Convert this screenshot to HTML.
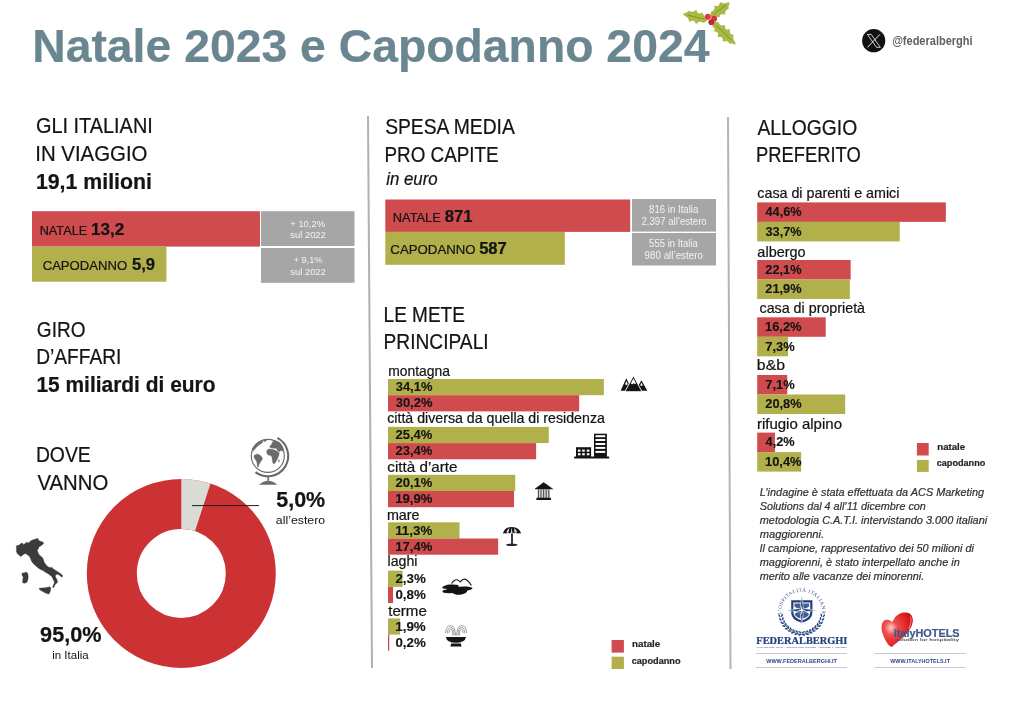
<!DOCTYPE html>
<html lang="it"><head><meta charset="utf-8"><title>Natale 2023 e Capodanno 2024</title>
<style>html,body{margin:0;padding:0;background:#fff;width:1024px;height:709px;overflow:hidden}svg{display:block;will-change:transform}</style>
</head><body>
<svg width="1024" height="709" viewBox="0 0 1024 709">
<rect width="1024" height="709" fill="#fff"/>
<line x1="368" y1="116" x2="372" y2="668" stroke="#a9b3b8" stroke-width="2"/>
<line x1="728" y1="117" x2="730.5" y2="669" stroke="#b4b4b4" stroke-width="2"/>
<rect x="32" y="211.2" width="228" height="35.4" fill="#d04b4d"/>
<rect x="32" y="246.6" width="134.4" height="35.1" fill="#b1b04b"/>
<rect x="261" y="211.2" width="93.5" height="34.8" fill="#a6a6a6"/>
<rect x="261" y="248" width="93.5" height="34.8" fill="#a6a6a6"/>
<rect x="385.3" y="199.5" width="244.9" height="32.4" fill="#d04b4d"/>
<rect x="385.3" y="231.9" width="179.5" height="32.9" fill="#b1b04b"/>
<rect x="632" y="199" width="84" height="32.6" fill="#a6a6a6"/>
<rect x="632" y="233" width="84" height="32.5" fill="#a6a6a6"/>
<rect x="388.0" y="379.0" width="215.85" height="16.2" fill="#b1b04b"/>
<rect x="388.0" y="395.2" width="191.17" height="16.2" fill="#d04b4d"/>
<rect x="388.0" y="426.9" width="160.78" height="16.2" fill="#b1b04b"/>
<rect x="388.0" y="443.09999999999997" width="148.12" height="16.2" fill="#d04b4d"/>
<rect x="388.0" y="474.8" width="127.23" height="16.2" fill="#b1b04b"/>
<rect x="388.0" y="491.0" width="125.97" height="16.2" fill="#d04b4d"/>
<rect x="388.0" y="522.3" width="71.53" height="16.2" fill="#b1b04b"/>
<rect x="388.0" y="538.5" width="110.14" height="16.2" fill="#d04b4d"/>
<rect x="388.0" y="570.6" width="14.56" height="16.2" fill="#b1b04b"/>
<rect x="388.0" y="586.8000000000001" width="5.06" height="16.2" fill="#d04b4d"/>
<rect x="388.0" y="618.4" width="12.03" height="16.2" fill="#b1b04b"/>
<rect x="388.0" y="634.6" width="1.27" height="16.2" fill="#d04b4d"/>
<rect x="757.2" y="202.4" width="188.66" height="19.5" fill="#d04b4d"/>
<rect x="757.2" y="221.9" width="142.55" height="19.5" fill="#b1b04b"/>
<rect x="757.2" y="260.0" width="93.48" height="19.5" fill="#d04b4d"/>
<rect x="757.2" y="279.5" width="92.64" height="19.5" fill="#b1b04b"/>
<rect x="757.2" y="317.3" width="68.53" height="19.5" fill="#d04b4d"/>
<rect x="757.2" y="336.8" width="30.88" height="19.5" fill="#b1b04b"/>
<rect x="757.2" y="375.0" width="30.03" height="19.5" fill="#d04b4d"/>
<rect x="757.2" y="394.5" width="87.98" height="19.5" fill="#b1b04b"/>
<rect x="757.2" y="432.6" width="17.77" height="19.5" fill="#d04b4d"/>
<rect x="757.2" y="452.1" width="43.99" height="19.5" fill="#b1b04b"/>
<rect x="611.6" y="640" width="12.3" height="12.6" fill="#d04b4d"/>
<rect x="611.6" y="656.7" width="12.3" height="12.3" fill="#b1b04b"/>
<rect x="916.9" y="443" width="11.8" height="12.5" fill="#d04b4d"/>
<rect x="916.9" y="459.9" width="11.8" height="12" fill="#b1b04b"/>
<circle cx="181.3" cy="573.4" r="69.5" fill="none" stroke="#cc3234" stroke-width="50.0"/>
<path d="M181.30,478.90 A94.5,94.5 0 0 1 210.50,483.53 L195.05,531.08 A44.5,44.5 0 0 0 181.30,528.90 Z" fill="#dbdbd5"/>
<line x1="192" y1="505.6" x2="259" y2="505.6" stroke="#1e1e1e" stroke-width="1"/>
<g transform="translate(707.5,19.8) rotate(-165.96)"><path d="M0.00,-0.00 L0.21,-0.79 L0.43,-1.19 L0.64,-1.52 L0.85,-1.81 L1.07,-2.06 L1.28,-2.30 L1.49,-2.52 L1.70,-2.73 L1.92,-2.92 L2.13,-3.11 L2.34,-3.29 L2.56,-3.46 L2.77,-3.62 L2.98,-3.78 L3.20,-3.85 L3.41,-3.84 L3.62,-3.83 L3.83,-3.80 L4.05,-3.76 L4.26,-3.72 L4.47,-3.68 L4.69,-3.63 L4.90,-3.59 L5.11,-3.55 L5.33,-3.52 L5.54,-3.50 L5.75,-3.48 L5.96,-3.49 L6.18,-3.50 L6.39,-3.53 L6.60,-3.58 L6.82,-3.65 L7.03,-3.73 L7.24,-3.84 L7.46,-3.96 L7.67,-4.11 L7.88,-4.27 L8.10,-4.45 L8.31,-4.65 L8.52,-4.87 L8.73,-5.10 L8.95,-5.35 L9.16,-5.60 L9.37,-5.87 L9.59,-6.14 L9.80,-6.42 L10.01,-6.71 L10.23,-6.59 L10.44,-6.38 L10.65,-6.17 L10.86,-5.95 L11.08,-5.74 L11.29,-5.54 L11.50,-5.35 L11.72,-5.17 L11.93,-5.00 L12.14,-4.85 L12.36,-4.71 L12.57,-4.59 L12.78,-4.50 L12.99,-4.42 L13.21,-4.37 L13.42,-4.34 L13.63,-4.33 L13.85,-4.34 L14.06,-4.38 L14.27,-4.43 L14.49,-4.51 L14.70,-4.61 L14.91,-4.72 L15.12,-4.86 L15.34,-5.00 L15.55,-5.16 L15.76,-5.33 L15.98,-5.51 L16.19,-5.69 L16.40,-5.87 L16.62,-6.06 L16.83,-6.24 L17.04,-6.42 L17.26,-6.13 L17.47,-5.84 L17.68,-5.56 L17.89,-5.29 L18.11,-4.94 L18.32,-4.62 L18.53,-4.32 L18.75,-4.04 L18.96,-3.78 L19.17,-3.54 L19.39,-3.33 L19.60,-3.13 L19.81,-2.96 L20.02,-2.80 L20.24,-2.67 L20.45,-2.55 L20.66,-2.44 L20.88,-2.35 L21.09,-2.27 L21.30,-2.20 L21.52,-2.14 L21.73,-2.08 L21.94,-2.02 L22.15,-1.96 L22.37,-1.91 L22.58,-1.84 L22.79,-1.78 L23.01,-1.71 L23.22,-1.63 L23.43,-1.54 L23.65,-1.44 L23.86,-1.33 L24.07,-1.19 L24.29,-0.98 L24.50,-0.79 L24.71,-0.61 L24.92,-0.44 L25.14,-0.28 L25.35,-0.13 L25.56,-0.00 L25.56,0.00 L25.35,0.12 L25.14,0.23 L24.92,0.33 L24.71,0.44 L24.50,0.54 L24.29,0.64 L24.07,0.74 L23.86,0.85 L23.65,0.96 L23.43,1.08 L23.22,1.21 L23.01,1.35 L22.79,1.51 L22.58,1.67 L22.37,1.85 L22.15,2.05 L21.94,2.26 L21.73,2.48 L21.52,2.73 L21.30,2.98 L21.09,3.26 L20.88,3.55 L20.66,3.85 L20.45,4.05 L20.24,4.06 L20.02,4.07 L19.81,4.06 L19.60,4.05 L19.39,4.03 L19.17,4.01 L18.96,4.00 L18.75,3.98 L18.53,3.97 L18.32,3.96 L18.11,3.97 L17.89,3.99 L17.68,3.96 L17.47,3.95 L17.26,3.96 L17.04,3.98 L16.83,4.03 L16.62,4.10 L16.40,4.18 L16.19,4.29 L15.98,4.42 L15.76,4.57 L15.55,4.74 L15.34,4.93 L15.12,5.14 L14.91,5.36 L14.70,5.59 L14.49,5.83 L14.27,6.09 L14.06,6.35 L13.85,6.61 L13.63,6.88 L13.42,6.83 L13.21,6.59 L12.99,6.34 L12.78,6.10 L12.57,5.86 L12.36,5.64 L12.14,5.42 L11.93,5.21 L11.72,5.02 L11.50,4.85 L11.29,4.69 L11.08,4.56 L10.86,4.44 L10.65,4.34 L10.44,4.27 L10.23,4.22 L10.01,4.19 L9.80,4.18 L9.59,4.19 L9.37,4.23 L9.16,4.28 L8.95,4.35 L8.73,4.44 L8.52,4.54 L8.31,4.65 L8.10,4.78 L7.88,4.91 L7.67,5.05 L7.46,5.19 L7.24,5.33 L7.03,5.47 L6.82,5.60 L6.60,5.73 L6.39,5.52 L6.18,5.23 L5.96,4.95 L5.75,4.67 L5.54,4.41 L5.33,4.16 L5.11,3.92 L4.90,3.69 L4.69,3.48 L4.47,3.29 L4.26,3.11 L4.05,2.95 L3.83,2.80 L3.62,2.67 L3.41,2.55 L3.20,2.44 L2.98,3.78 L2.77,3.62 L2.56,3.46 L2.34,3.29 L2.13,3.11 L1.92,2.92 L1.70,2.73 L1.49,2.52 L1.28,2.30 L1.07,2.06 L0.85,1.81 L0.64,1.52 L0.43,1.19 L0.21,0.79 L0.00,0.00Z" fill="#a9b944"/><path d="M3.07,0 Q11.50,-0.70 20.45,-0.21" stroke="#75862a" stroke-width="0.7" fill="none"/></g>
<g transform="translate(711,16.5) rotate(-36.19)"><path d="M0.00,-0.00 L0.20,-0.79 L0.39,-1.19 L0.59,-1.52 L0.78,-1.81 L0.98,-2.06 L1.18,-2.30 L1.37,-2.52 L1.57,-2.73 L1.77,-2.92 L1.96,-3.11 L2.16,-3.29 L2.35,-3.46 L2.55,-3.62 L2.75,-3.78 L2.94,-3.85 L3.14,-3.84 L3.34,-3.83 L3.53,-3.80 L3.73,-3.76 L3.92,-3.72 L4.12,-3.68 L4.32,-3.63 L4.51,-3.59 L4.71,-3.55 L4.90,-3.52 L5.10,-3.50 L5.30,-3.48 L5.49,-3.49 L5.69,-3.50 L5.89,-3.53 L6.08,-3.58 L6.28,-3.65 L6.47,-3.73 L6.67,-3.84 L6.87,-3.96 L7.06,-4.11 L7.26,-4.27 L7.45,-4.45 L7.65,-4.65 L7.85,-4.87 L8.04,-5.10 L8.24,-5.35 L8.44,-5.60 L8.63,-5.87 L8.83,-6.14 L9.02,-6.42 L9.22,-6.71 L9.42,-6.59 L9.61,-6.38 L9.81,-6.17 L10.01,-5.95 L10.20,-5.74 L10.40,-5.54 L10.59,-5.35 L10.79,-5.17 L10.99,-5.00 L11.18,-4.85 L11.38,-4.71 L11.57,-4.59 L11.77,-4.50 L11.97,-4.42 L12.16,-4.37 L12.36,-4.34 L12.56,-4.33 L12.75,-4.34 L12.95,-4.38 L13.14,-4.43 L13.34,-4.51 L13.54,-4.61 L13.73,-4.72 L13.93,-4.86 L14.12,-5.00 L14.32,-5.16 L14.52,-5.33 L14.71,-5.51 L14.91,-5.69 L15.11,-5.87 L15.30,-6.06 L15.50,-6.24 L15.69,-6.42 L15.89,-6.13 L16.09,-5.84 L16.28,-5.56 L16.48,-5.29 L16.68,-4.94 L16.87,-4.62 L17.07,-4.32 L17.26,-4.04 L17.46,-3.78 L17.66,-3.54 L17.85,-3.33 L18.05,-3.13 L18.24,-2.96 L18.44,-2.80 L18.64,-2.67 L18.83,-2.55 L19.03,-2.44 L19.23,-2.35 L19.42,-2.27 L19.62,-2.20 L19.81,-2.14 L20.01,-2.08 L20.21,-2.02 L20.40,-1.96 L20.60,-1.91 L20.80,-1.84 L20.99,-1.78 L21.19,-1.71 L21.38,-1.63 L21.58,-1.54 L21.78,-1.44 L21.97,-1.33 L22.17,-1.19 L22.36,-0.98 L22.56,-0.79 L22.76,-0.61 L22.95,-0.44 L23.15,-0.28 L23.35,-0.13 L23.54,-0.00 L23.54,0.00 L23.35,0.12 L23.15,0.23 L22.95,0.33 L22.76,0.44 L22.56,0.54 L22.36,0.64 L22.17,0.74 L21.97,0.85 L21.78,0.96 L21.58,1.08 L21.38,1.21 L21.19,1.35 L20.99,1.51 L20.80,1.67 L20.60,1.85 L20.40,2.05 L20.21,2.26 L20.01,2.48 L19.81,2.73 L19.62,2.98 L19.42,3.26 L19.23,3.55 L19.03,3.85 L18.83,4.05 L18.64,4.06 L18.44,4.07 L18.24,4.06 L18.05,4.05 L17.85,4.03 L17.66,4.01 L17.46,4.00 L17.26,3.98 L17.07,3.97 L16.87,3.96 L16.68,3.97 L16.48,3.99 L16.28,3.96 L16.09,3.95 L15.89,3.96 L15.69,3.98 L15.50,4.03 L15.30,4.10 L15.11,4.18 L14.91,4.29 L14.71,4.42 L14.52,4.57 L14.32,4.74 L14.12,4.93 L13.93,5.14 L13.73,5.36 L13.54,5.59 L13.34,5.83 L13.14,6.09 L12.95,6.35 L12.75,6.61 L12.56,6.88 L12.36,6.83 L12.16,6.59 L11.97,6.34 L11.77,6.10 L11.57,5.86 L11.38,5.64 L11.18,5.42 L10.99,5.21 L10.79,5.02 L10.59,4.85 L10.40,4.69 L10.20,4.56 L10.01,4.44 L9.81,4.34 L9.61,4.27 L9.42,4.22 L9.22,4.19 L9.02,4.18 L8.83,4.19 L8.63,4.23 L8.44,4.28 L8.24,4.35 L8.04,4.44 L7.85,4.54 L7.65,4.65 L7.45,4.78 L7.26,4.91 L7.06,5.05 L6.87,5.19 L6.67,5.33 L6.47,5.47 L6.28,5.60 L6.08,5.73 L5.89,5.52 L5.69,5.23 L5.49,4.95 L5.30,4.67 L5.10,4.41 L4.90,4.16 L4.71,3.92 L4.51,3.69 L4.32,3.48 L4.12,3.29 L3.92,3.11 L3.73,2.95 L3.53,2.80 L3.34,2.67 L3.14,2.55 L2.94,2.44 L2.75,3.78 L2.55,3.62 L2.35,3.46 L2.16,3.29 L1.96,3.11 L1.77,2.92 L1.57,2.73 L1.37,2.52 L1.18,2.30 L0.98,2.06 L0.78,1.81 L0.59,1.52 L0.39,1.19 L0.20,0.79 L0.00,0.00Z" fill="#a9b944"/><path d="M2.82,0 Q10.59,-0.70 18.83,-0.21" stroke="#75862a" stroke-width="0.7" fill="none"/></g>
<g transform="translate(713,22.5) rotate(44.36)"><path d="M0.00,-0.00 L0.27,-0.81 L0.53,-1.23 L0.80,-1.56 L1.06,-1.86 L1.33,-2.12 L1.59,-2.37 L1.86,-2.59 L2.13,-2.81 L2.39,-3.01 L2.66,-3.20 L2.92,-3.38 L3.19,-3.56 L3.46,-3.73 L3.72,-3.89 L3.99,-3.93 L4.25,-3.87 L4.52,-3.80 L4.78,-3.73 L5.05,-3.65 L5.32,-3.57 L5.58,-3.49 L5.85,-3.43 L6.11,-3.39 L6.38,-3.36 L6.64,-3.36 L6.91,-3.39 L7.18,-3.45 L7.44,-3.54 L7.71,-3.66 L7.97,-3.82 L8.24,-4.01 L8.50,-4.24 L8.77,-4.50 L9.04,-4.79 L9.30,-5.10 L9.57,-5.44 L9.83,-5.80 L10.10,-6.17 L10.37,-6.54 L10.63,-6.29 L10.90,-6.02 L11.16,-5.76 L11.43,-5.51 L11.69,-5.28 L11.96,-5.06 L12.23,-4.86 L12.49,-4.70 L12.76,-4.56 L13.02,-4.47 L13.29,-4.41 L13.55,-4.39 L13.82,-4.42 L14.09,-4.48 L14.35,-4.59 L14.62,-4.74 L14.88,-4.93 L15.15,-5.15 L15.41,-5.40 L15.68,-5.68 L15.95,-5.99 L16.21,-6.31 L16.48,-6.64 L16.74,-6.98 L17.01,-7.04 L17.28,-6.68 L17.54,-6.33 L17.81,-5.99 L18.07,-5.67 L18.34,-5.37 L18.60,-5.10 L18.87,-4.86 L19.14,-4.65 L19.40,-4.49 L19.67,-4.36 L19.93,-4.27 L20.20,-4.23 L20.46,-4.22 L20.73,-4.26 L21.00,-4.33 L21.26,-4.43 L21.53,-4.57 L21.79,-4.73 L22.06,-4.91 L22.32,-5.11 L22.59,-5.23 L22.86,-5.36 L23.12,-5.47 L23.39,-5.58 L23.65,-5.25 L23.92,-4.83 L24.19,-4.43 L24.45,-4.06 L24.72,-3.72 L24.98,-3.40 L25.25,-3.13 L25.51,-2.88 L25.78,-2.66 L26.05,-2.48 L26.31,-2.32 L26.58,-2.19 L26.84,-2.08 L27.11,-1.99 L27.37,-1.91 L27.64,-1.85 L27.91,-1.80 L28.17,-1.75 L28.44,-1.70 L28.70,-1.65 L28.97,-1.59 L29.23,-1.53 L29.50,-1.45 L29.77,-1.35 L30.03,-1.22 L30.30,-1.00 L30.56,-0.79 L30.83,-0.60 L31.10,-0.43 L31.36,-0.27 L31.63,-0.13 L31.89,-0.00 L31.89,0.00 L31.63,0.13 L31.36,0.25 L31.10,0.36 L30.83,0.46 L30.56,0.56 L30.30,0.66 L30.03,0.76 L29.77,0.88 L29.50,1.00 L29.23,1.13 L28.97,1.29 L28.70,1.46 L28.44,1.65 L28.17,1.86 L27.91,2.10 L27.64,2.36 L27.37,2.64 L27.11,2.94 L26.84,3.27 L26.58,3.44 L26.31,3.43 L26.05,3.41 L25.78,3.39 L25.51,3.35 L25.25,3.32 L24.98,3.29 L24.72,3.28 L24.45,3.27 L24.19,3.29 L23.92,3.33 L23.65,3.40 L23.39,3.49 L23.12,3.63 L22.86,3.80 L22.59,4.01 L22.32,4.27 L22.06,4.49 L21.79,4.75 L21.53,5.04 L21.26,5.35 L21.00,5.69 L20.73,6.04 L20.46,6.41 L20.20,6.79 L19.93,6.57 L19.67,6.28 L19.40,5.99 L19.14,5.72 L18.87,5.46 L18.60,5.22 L18.34,5.00 L18.07,4.82 L17.81,4.67 L17.54,4.56 L17.28,4.48 L17.01,4.45 L16.74,4.46 L16.48,4.52 L16.21,4.61 L15.95,4.75 L15.68,4.92 L15.41,5.13 L15.15,5.37 L14.88,5.64 L14.62,5.92 L14.35,6.23 L14.09,6.54 L13.82,6.86 L13.55,6.98 L13.29,6.61 L13.02,6.25 L12.76,5.90 L12.49,5.57 L12.23,5.26 L11.96,4.99 L11.69,4.74 L11.43,4.53 L11.16,4.35 L10.90,4.21 L10.63,4.12 L10.37,4.06 L10.10,4.04 L9.83,4.05 L9.57,4.11 L9.30,4.19 L9.04,4.30 L8.77,4.44 L8.50,4.59 L8.24,4.76 L7.97,4.94 L7.71,5.12 L7.44,5.30 L7.18,5.48 L6.91,5.27 L6.64,4.91 L6.38,4.56 L6.11,4.23 L5.85,3.93 L5.58,3.64 L5.32,3.39 L5.05,3.16 L4.78,2.96 L4.52,2.78 L4.25,2.64 L3.99,2.51 L3.72,3.89 L3.46,3.73 L3.19,3.56 L2.92,3.38 L2.66,3.20 L2.39,3.01 L2.13,2.81 L1.86,2.59 L1.59,2.37 L1.33,2.12 L1.06,1.86 L0.80,1.56 L0.53,1.23 L0.27,0.81 L0.00,0.00Z" fill="#a9b944"/><path d="M3.83,0 Q14.35,-0.72 25.51,-0.22" stroke="#75862a" stroke-width="0.7" fill="none"/></g>
<circle cx="707.9" cy="16.8" r="3.0" fill="#e23844"/>
<circle cx="714.1" cy="18.8" r="3.0" fill="#d9333f"/>
<circle cx="711.3" cy="22.2" r="2.9" fill="#b92a35"/>
<circle cx="873.7" cy="40.7" r="11.6" fill="#111"/>
<path d="M867.4,34.4 L871.2,34.4 L880.3,47.3 L876.5,47.3 Z" fill="none" stroke="#eee" stroke-width="0.85" stroke-linejoin="miter"/>
<line x1="880" y1="34.3" x2="867.4" y2="47.4" stroke="#e6e6e6" stroke-width="1"/>
<circle cx="267.8" cy="455.9" r="16.5" fill="none" stroke="#6b6b6b" stroke-width="1.15"/>
<path d="M277.38,437.89 A20.4,20.4 0 1 1 255.52,472.19" fill="none" stroke="#6b6b6b" stroke-width="2.1"/>
<rect x="267.4" y="477.2" width="1.7" height="3.6" fill="#6b6b6b"/>
<path d="M259,484.8 Q268.2,476.8 277.4,484.8 Z" fill="#6b6b6b"/>
<path d="M252.54,448.69 L253.39,447.00 L254.80,445.31 L256.77,443.62 L259.03,442.21 L261.28,441.36 L263.09,440.96 L262.69,442.49 L261.28,443.62 L259.87,444.46 L258.46,445.59 L257.05,446.72 L255.64,448.13 L254.51,449.54 L253.50,450.78 L252.71,451.23Z" fill="#6b6b6b" stroke="#6b6b6b" stroke-width="0.3" stroke-linejoin="round"/>
<path d="M254.23,455.18 L257.33,454.05 L259.87,454.90 L262.41,457.72 L262.13,459.70 L260.44,461.95 L259.03,464.77 L258.18,467.59 L257.33,466.47 L257.05,463.08 L255.92,460.26 L254.51,458.57 L253.95,456.87Z" fill="#6b6b6b" stroke="#6b6b6b" stroke-width="0.3" stroke-linejoin="round"/>
<path d="M266.93,450.10 L269.18,448.98 L272.00,449.26 L274.82,450.10 L277.08,451.23 L279.34,452.93 L278.77,455.75 L277.64,458.57 L276.52,460.82 L275.11,463.08 L273.70,463.93 L272.85,463.08 L272.28,460.26 L272.00,457.44 L270.87,455.46 L268.62,455.18 L267.21,454.05 L266.64,452.08Z" fill="#6b6b6b" stroke="#6b6b6b" stroke-width="0.3" stroke-linejoin="round"/>
<path d="M269.75,446.16 L271.44,444.46 L272.57,441.64 L274.82,440.51 L277.08,441.08 L279.90,442.77 L282.16,445.59 L283.40,448.69 L283.00,451.23 L281.03,450.39 L279.34,451.80 L277.64,450.78 L276.52,448.52 L274.82,448.13 L272.57,448.30 L270.31,447.73Z" fill="#6b6b6b" stroke="#6b6b6b" stroke-width="0.3" stroke-linejoin="round"/>
<path d="M263.54,440.23 L265.23,439.50 L266.93,439.67 L266.08,441.08 L264.39,441.64Z" fill="#6b6b6b" stroke="#6b6b6b" stroke-width="0.3" stroke-linejoin="round"/>
<path d="M278.49,459.98 L279.22,459.70 L279.45,461.39 L278.77,462.23Z" fill="#6b6b6b" stroke="#6b6b6b" stroke-width="0.3" stroke-linejoin="round"/>
<path d="M16.34,545.74 L18.78,545.29 L21.03,543.49 L22.39,543.03 L23.74,544.66 L25.55,543.03 L26.91,542.31 L28.26,543.03 L30.97,540.78 L33.68,539.60 L35.94,538.97 L37.75,538.34 L39.10,540.78 L43.17,542.13 L43.62,543.49 L41.81,545.29 L39.10,546.65 L38.20,548.91 L37.29,550.26 L38.20,552.97 L39.10,554.78 L41.81,557.04 L43.17,558.84 L44.07,562.00 L46.33,565.17 L49.04,567.42 L52.20,567.60 L53.10,568.78 L55.36,570.13 L58.07,571.94 L60.78,573.75 L62.59,575.55 L62.14,577.18 L60.78,576.46 L59.43,575.10 L57.17,574.20 L55.81,574.47 L55.36,576.46 L56.72,579.17 L57.62,581.43 L56.72,583.23 L55.36,584.14 L54.46,585.94 L53.73,587.75 L52.65,587.30 L53.37,585.04 L54.46,582.78 L54.01,580.97 L53.10,579.17 L51.75,576.46 L49.49,574.65 L47.23,573.30 L44.97,571.94 L43.17,570.59 L40.91,569.68 L38.20,567.88 L35.04,565.17 L32.78,562.91 L31.42,561.10 L30.52,558.39 L29.62,556.58 L27.36,554.78 L25.55,553.42 L23.74,554.33 L21.94,555.68 L20.58,556.58 L19.23,555.23 L17.42,553.87 L16.34,551.62 L16.52,548.45Z" fill="#3b3b3b" stroke="#3b3b3b" stroke-width="0.4" stroke-linejoin="round"/>
<path d="M21.94,573.30 L24.20,572.84 L26.45,571.94 L27.81,573.75 L28.26,576.46 L27.81,580.07 L26.91,582.33 L24.65,583.23 L22.66,582.78 L22.66,580.07 L23.29,577.36 L22.12,575.55Z" fill="#3b3b3b" stroke="#3b3b3b" stroke-width="0.4" stroke-linejoin="round"/>
<path d="M39.10,588.20 L41.81,588.02 L45.42,587.75 L49.94,586.85 L50.84,588.20 L50.39,590.91 L49.04,594.07 L46.78,593.62 L44.07,592.27 L40.91,590.46 L39.55,589.56Z" fill="#3b3b3b" stroke="#3b3b3b" stroke-width="0.4" stroke-linejoin="round"/>
<path d="M626.3,378.3 L632.2,390.7 L620.6,390.7Z" fill="#141414"/>
<path d="M641.4,380.2 L647.3,390.8 L635.5,390.8Z" fill="#141414"/>
<path d="M633.4,375.8 L642,391.7 L624.9,391.7Z" fill="#141414" stroke="#fff" stroke-width="0.9" stroke-linejoin="round"/>
<path d="M633.4,378.6 L636.1,383.4 L635,384.1 L633.8,383.2 L632.3,384.2 L630.8,383.5Z" fill="#fff"/>
<path d="M626.3,381 L627.9,384.4 L626.5,384.9 L625.1,384.3Z" fill="#fff"/>
<path d="M641.4,382.6 L642.8,385.3 L641.6,385.9 L640.2,385.3Z" fill="#fff"/>
<rect x="574.1" y="456.6" width="35.2" height="1.9" rx="0.6" fill="#141414"/>
<rect x="576" y="447.2" width="15.1" height="10" fill="#141414"/>
<rect x="577.9" y="449.6" width="2.6" height="2.1" fill="#fff"/>
<rect x="577.9" y="453.2" width="2.6" height="2.1" fill="#fff"/>
<rect x="582.2" y="449.6" width="2.6" height="2.1" fill="#fff"/>
<rect x="582.2" y="453.2" width="2.6" height="2.1" fill="#fff"/>
<rect x="586.8" y="449.6" width="2.6" height="2.1" fill="#fff"/>
<rect x="586.8" y="453.2" width="2.6" height="2.1" fill="#fff"/>
<rect x="594" y="433.7" width="12.9" height="23.5" fill="#141414"/>
<rect x="595.5" y="435.2" width="9.7" height="2" fill="#fff"/>
<rect x="595.5" y="439.0" width="9.7" height="2" fill="#fff"/>
<rect x="595.5" y="443.0" width="9.7" height="2" fill="#fff"/>
<rect x="595.5" y="446.9" width="9.7" height="2" fill="#fff"/>
<rect x="595.5" y="450.9" width="9.7" height="2" fill="#fff"/>
<path d="M543.7,482.6 L552.6,488.9 L535,488.9Z" fill="#141414" stroke="#141414" stroke-width="0.6" stroke-linejoin="round"/>
<rect x="537.85" y="489.2" width="1.1" height="9" fill="#333"/>
<rect x="540.45" y="489.2" width="1.1" height="9" fill="#333"/>
<rect x="543.0500000000001" y="489.2" width="1.1" height="9" fill="#333"/>
<rect x="545.6500000000001" y="489.2" width="1.1" height="9" fill="#333"/>
<rect x="548.25" y="489.2" width="1.1" height="9" fill="#333"/>
<rect x="537.8" y="489" width="12.2" height="9.3" fill="#8a8a8a" opacity="0.35"/>
<rect x="536.3" y="497.8" width="14.8" height="2.3" rx="0.8" fill="#141414"/>
<path d="M502.9,533.6 Q504.5,527 511.9,527 Q519.4,527 521,533.6 Q519.6,532.8 518,533.4 Q516.2,532.6 514.2,533.2 Q512.9,532.5 511.9,533.2 Q510.8,532.5 509.6,533.2 Q507.6,532.6 505.8,533.4 Q504.3,532.8 502.9,533.6Z" fill="#141414"/>
<path d="M506.2,532.6 Q507.3,529.5 509.5,528.1 Q508.8,530.5 508.5,532.7Z M514.2,532.6 Q514.6,530 514.2,527.9 Q516.6,529.6 517.2,532.5Z M510.9,532.9 Q511,530 511.6,527.8 Q512.3,530 512.4,532.9Z" fill="#fff" opacity="0.85"/>
<rect x="511.1" y="533.4" width="1.8" height="10.5" fill="#262626"/>
<ellipse cx="511.8" cy="544.8" rx="5.9" ry="1.2" fill="#262626"/>
<path d="M451.6,583.6 Q454,579.6 457,579.8 Q459,580.5 460.3,581.8 Q462.5,578.8 465.5,579.2 Q468.5,580.5 471.4,585.6" fill="none" stroke="#141414" stroke-width="1.1"/>
<path d="M445.5,585.6 Q448,584.2 451,584.6 Q455,584.4 458.2,584.9 L458.6,586.8 Q462,586.4 467,586.6 Q472.6,587.3 472.6,588.6 Q471.5,590 467.4,590.6 Q466.8,594 460.5,594.7 Q454.5,595 452.6,593 Q447,593.5 443,592.5 Q441.5,591.2 444,590.1 Q447.5,589.6 446.6,588.8 Q442,588.6 442.2,587.4 Q443,586 445.5,585.6Z" fill="#141414"/>
<path d="M445.9,637 L466,637 Q465,642.8 456,642.8 Q446.8,642.8 445.9,637Z" fill="#141414"/>
<path d="M451.2,643.6 L460.8,643.6 L461.6,646.5 L450.4,646.5Z" fill="#141414"/>
<g fill="none" stroke="#7a7a7a" stroke-width="0.7"><path d="M445.6,633 Q446,625.6 450.6,625.6 Q455,625.6 455.6,635.5"/><path d="M447.3,633.3 Q447.8,627.4 450.7,627.4 Q454,627.4 454.2,635.5"/><path d="M449,633 Q449.3,629.2 450.8,629.2 Q452.7,629.2 452.8,635.5"/><path d="M466.6,633 Q466.2,625.6 461.6,625.6 Q457.2,625.6 456.6,635.5"/><path d="M464.9,633.3 Q464.4,627.4 461.5,627.4 Q458.2,627.4 458,635.5"/><path d="M463.2,633 Q462.9,629.2 461.4,629.2 Q459.5,629.2 459.4,635.5"/></g>
<defs><path id="ringarc" d="M781.4000000000001,614.9 A20.5,20.5 0 1 1 822.0,614.9"/><radialGradient id="hg" cx="0.3" cy="0.45" r="0.8"><stop offset="0" stop-color="#ffd0d0"/><stop offset="0.25" stop-color="#f05050"/><stop offset="0.7" stop-color="#e01c1c"/><stop offset="1" stop-color="#b80c10"/></radialGradient></defs>
<text font-family="Liberation Serif, serif" font-size="5" fill="#213f7d"><textPath href="#ringarc" startOffset="0.5" textLength="68" lengthAdjust="spacing">L’OSPITALITÀ ITALIANA</textPath></text>
<path d="M791.2,600.2 L812.4,600.2 L812.4,613 Q812.4,619.8 801.8,622.8 Q791.2,619.8 791.2,613 Z" fill="#213f7d"/>
<path d="M793.4,602.4 L810.2,602.4 L810.2,612.8 Q810.2,618 801.8,620.4 Q793.4,618 793.4,612.8 Z" fill="#fff"/>
<path d="M794.5,603.5 L800.6,603.5 L800.6,608.6 Q797,609 794.5,606.5Z M809.1,603.5 L803,603.5 L803,608.6 Q806.6,609 809.1,606.5Z M794.5,614 Q797,611.6 800.6,611.8 L800.6,618.6 Q795.8,617 794.5,614Z M809.1,614 Q806.6,611.6 803,611.8 L803,618.6 Q807.8,617 809.1,614Z" fill="#213f7d" opacity="0.85"/>
<path d="M801.8,595.5 L803.4,608.4 L816.6,610.2 L803.4,612 L801.8,625 L800.2,612 L787,610.2 L800.2,608.4 Z" fill="#213f7d" stroke="#fff" stroke-width="0.5"/>
<path d="M801.8,605.2 L802.6,609.4 L806.8,610.2 L802.6,611 L801.8,615.2 L801,611 L796.8,610.2 L801,609.4Z" fill="#fff"/>
<ellipse cx="799.97" cy="632.12" rx="1.7" ry="0.75" transform="rotate(210.0 799.97 632.12)" fill="#213f7d"/>
<ellipse cx="799.74" cy="634.71" rx="1.7" ry="0.75" transform="rotate(160.0 799.74 634.71)" fill="#213f7d"/>
<ellipse cx="796.72" cy="631.57" rx="1.7" ry="0.75" transform="rotate(219.5 796.72 631.57)" fill="#213f7d"/>
<ellipse cx="796.07" cy="634.08" rx="1.7" ry="0.75" transform="rotate(169.5 796.07 634.08)" fill="#213f7d"/>
<ellipse cx="793.61" cy="630.48" rx="1.7" ry="0.75" transform="rotate(229.0 793.61 630.48)" fill="#213f7d"/>
<ellipse cx="792.55" cy="632.85" rx="1.7" ry="0.75" transform="rotate(179.0 792.55 632.85)" fill="#213f7d"/>
<ellipse cx="790.72" cy="628.89" rx="1.7" ry="0.75" transform="rotate(238.5 790.72 628.89)" fill="#213f7d"/>
<ellipse cx="789.28" cy="631.06" rx="1.7" ry="0.75" transform="rotate(188.5 789.28 631.06)" fill="#213f7d"/>
<ellipse cx="788.13" cy="626.85" rx="1.7" ry="0.75" transform="rotate(248.0 788.13 626.85)" fill="#213f7d"/>
<ellipse cx="786.36" cy="628.76" rx="1.7" ry="0.75" transform="rotate(198.0 786.36 628.76)" fill="#213f7d"/>
<ellipse cx="785.91" cy="624.41" rx="1.7" ry="0.75" transform="rotate(257.5 785.91 624.41)" fill="#213f7d"/>
<ellipse cx="783.85" cy="626.00" rx="1.7" ry="0.75" transform="rotate(207.5 783.85 626.00)" fill="#213f7d"/>
<ellipse cx="784.13" cy="621.64" rx="1.7" ry="0.75" transform="rotate(267.0 784.13 621.64)" fill="#213f7d"/>
<ellipse cx="781.83" cy="622.86" rx="1.7" ry="0.75" transform="rotate(217.0 781.83 622.86)" fill="#213f7d"/>
<ellipse cx="782.83" cy="618.61" rx="1.7" ry="0.75" transform="rotate(276.5 782.83 618.61)" fill="#213f7d"/>
<ellipse cx="780.36" cy="619.44" rx="1.7" ry="0.75" transform="rotate(226.5 780.36 619.44)" fill="#213f7d"/>
<ellipse cx="782.05" cy="615.41" rx="1.7" ry="0.75" transform="rotate(286.0 782.05 615.41)" fill="#213f7d"/>
<ellipse cx="779.48" cy="615.82" rx="1.7" ry="0.75" transform="rotate(236.0 779.48 615.82)" fill="#213f7d"/>
<ellipse cx="803.43" cy="632.12" rx="1.7" ry="0.75" transform="rotate(150.0 803.43 632.12)" fill="#213f7d"/>
<ellipse cx="803.66" cy="634.71" rx="1.7" ry="0.75" transform="rotate(200.0 803.66 634.71)" fill="#213f7d"/>
<ellipse cx="806.68" cy="631.57" rx="1.7" ry="0.75" transform="rotate(140.5 806.68 631.57)" fill="#213f7d"/>
<ellipse cx="807.33" cy="634.08" rx="1.7" ry="0.75" transform="rotate(190.5 807.33 634.08)" fill="#213f7d"/>
<ellipse cx="809.79" cy="630.48" rx="1.7" ry="0.75" transform="rotate(131.0 809.79 630.48)" fill="#213f7d"/>
<ellipse cx="810.85" cy="632.85" rx="1.7" ry="0.75" transform="rotate(181.0 810.85 632.85)" fill="#213f7d"/>
<ellipse cx="812.68" cy="628.89" rx="1.7" ry="0.75" transform="rotate(121.5 812.68 628.89)" fill="#213f7d"/>
<ellipse cx="814.12" cy="631.06" rx="1.7" ry="0.75" transform="rotate(171.5 814.12 631.06)" fill="#213f7d"/>
<ellipse cx="815.27" cy="626.85" rx="1.7" ry="0.75" transform="rotate(112.0 815.27 626.85)" fill="#213f7d"/>
<ellipse cx="817.04" cy="628.76" rx="1.7" ry="0.75" transform="rotate(162.0 817.04 628.76)" fill="#213f7d"/>
<ellipse cx="817.49" cy="624.41" rx="1.7" ry="0.75" transform="rotate(102.5 817.49 624.41)" fill="#213f7d"/>
<ellipse cx="819.55" cy="626.00" rx="1.7" ry="0.75" transform="rotate(152.5 819.55 626.00)" fill="#213f7d"/>
<ellipse cx="819.27" cy="621.64" rx="1.7" ry="0.75" transform="rotate(93.0 819.27 621.64)" fill="#213f7d"/>
<ellipse cx="821.57" cy="622.86" rx="1.7" ry="0.75" transform="rotate(143.0 821.57 622.86)" fill="#213f7d"/>
<ellipse cx="820.57" cy="618.61" rx="1.7" ry="0.75" transform="rotate(83.5 820.57 618.61)" fill="#213f7d"/>
<ellipse cx="823.04" cy="619.44" rx="1.7" ry="0.75" transform="rotate(133.5 823.04 619.44)" fill="#213f7d"/>
<ellipse cx="821.35" cy="615.41" rx="1.7" ry="0.75" transform="rotate(74.0 821.35 615.41)" fill="#213f7d"/>
<ellipse cx="823.92" cy="615.82" rx="1.7" ry="0.75" transform="rotate(124.0 823.92 615.82)" fill="#213f7d"/>
<path d="M782.7,622.3 Q791.7,634.3 801.7,634.3 Q811.7,634.3 820.7,622.3" stroke="#213f7d" stroke-width="0.7" fill="none"/>
<line x1="756" y1="653.5" x2="847" y2="653.5" stroke="#c4c4c4" stroke-width="0.9"/>
<line x1="874.7" y1="653.5" x2="966" y2="653.5" stroke="#c4c4c4" stroke-width="0.9"/>
<line x1="756" y1="667.5" x2="847" y2="667.5" stroke="#c4c4c4" stroke-width="0.9"/>
<line x1="874.7" y1="667.5" x2="966" y2="667.5" stroke="#c4c4c4" stroke-width="0.9"/>
<path d="M891.32,646.72 C889.88,646.37 888.00,644.31 886.48,641.89 C884.96,639.47 882.99,634.91 882.19,632.22 C881.38,629.54 881.47,627.57 881.65,625.78 C881.83,623.99 882.45,622.47 883.26,621.48 C884.07,620.50 885.32,620.05 886.48,619.87 C887.65,619.69 889.26,620.14 890.24,620.41 C891.23,620.68 891.41,622.20 892.39,621.48 C893.37,620.77 894.63,617.54 896.15,616.11 C897.67,614.68 899.64,613.46 901.52,612.89 C903.40,612.32 905.82,612.32 907.43,612.67 C909.04,613.03 910.29,613.84 911.19,615.04 C912.08,616.24 912.71,618.08 912.80,619.87 C912.89,621.66 912.53,623.72 911.72,625.78 C910.92,627.84 909.84,629.90 907.96,632.22 C906.08,634.55 902.59,637.77 900.45,639.74 C898.30,641.71 896.60,642.88 895.08,644.04 C893.55,645.20 892.75,647.08 891.32,646.72 Z" fill="url(#hg)"/>
<path d="M910.6,616.5 Q912.2,622 908.4,630" stroke="#fff" stroke-width="0.6" fill="none" opacity="0.85"/>
<text x="32.21" y="62.3" textLength="677.24" lengthAdjust="spacingAndGlyphs" font-family="Liberation Sans, sans-serif" font-size="46.2" font-weight="bold" font-style="normal" fill="#6a8690" stroke="#6a8690" stroke-width="0.22">Natale 2023 e Capodanno 2024</text>
<text x="892.13" y="45.3" textLength="80.47" lengthAdjust="spacingAndGlyphs" font-family="Liberation Sans, sans-serif" font-size="12.3" font-weight="bold" font-style="normal" fill="#606060">@federalberghi</text>
<text x="36.01" y="133.1" textLength="116.76" lengthAdjust="spacingAndGlyphs" font-family="Liberation Sans, sans-serif" font-size="21.5" font-weight="normal" font-style="normal" fill="#141414" stroke="#141414" stroke-width="0.22">GLI ITALIANI</text>
<text x="35.3" y="160.8" textLength="112.14" lengthAdjust="spacingAndGlyphs" font-family="Liberation Sans, sans-serif" font-size="21.5" font-weight="normal" font-style="normal" fill="#141414" stroke="#141414" stroke-width="0.22">IN VIAGGIO</text>
<text x="35.88" y="188.9" textLength="116.12" lengthAdjust="spacingAndGlyphs" font-family="Liberation Sans, sans-serif" font-size="21.5" font-weight="bold" font-style="normal" fill="#141414" stroke="#141414" stroke-width="0.22">19,1 milioni</text>
<text x="39.66" y="234.7" textLength="47.53" lengthAdjust="spacingAndGlyphs" font-family="Liberation Sans, sans-serif" font-size="13.5" font-weight="normal" font-style="normal" fill="#141414" stroke="#141414" stroke-width="0.22">NATALE</text>
<text x="91.06" y="234.7" textLength="33.19" lengthAdjust="spacingAndGlyphs" font-family="Liberation Sans, sans-serif" font-size="15.8" font-weight="bold" font-style="normal" fill="#141414" stroke="#141414" stroke-width="0.22">13,2</text>
<text x="42.67" y="269.8" textLength="84.53" lengthAdjust="spacingAndGlyphs" font-family="Liberation Sans, sans-serif" font-size="13.4" font-weight="normal" font-style="normal" fill="#141414" stroke="#141414" stroke-width="0.22">CAPODANNO</text>
<text x="131.95" y="269.8" textLength="23.13" lengthAdjust="spacingAndGlyphs" font-family="Liberation Sans, sans-serif" font-size="15.8" font-weight="bold" font-style="normal" fill="#141414" stroke="#141414" stroke-width="0.22">5,9</text>
<text x="290.28" y="226.7" textLength="34.81" lengthAdjust="spacingAndGlyphs" font-family="Liberation Sans, sans-serif" font-size="9" font-weight="normal" font-style="normal" fill="#f3f3f3">+ 10,2%</text>
<text x="290.24" y="238" textLength="35.61" lengthAdjust="spacingAndGlyphs" font-family="Liberation Sans, sans-serif" font-size="9" font-weight="normal" font-style="normal" fill="#f3f3f3">sul 2022</text>
<text x="293.49" y="262.8" textLength="29.1" lengthAdjust="spacingAndGlyphs" font-family="Liberation Sans, sans-serif" font-size="9" font-weight="normal" font-style="normal" fill="#f3f3f3">+ 9,1%</text>
<text x="290.24" y="274.6" textLength="35.61" lengthAdjust="spacingAndGlyphs" font-family="Liberation Sans, sans-serif" font-size="9" font-weight="normal" font-style="normal" fill="#f3f3f3">sul 2022</text>
<text x="36.85" y="336.6" textLength="48.59" lengthAdjust="spacingAndGlyphs" font-family="Liberation Sans, sans-serif" font-size="21.5" font-weight="normal" font-style="normal" fill="#141414" stroke="#141414" stroke-width="0.22">GIRO</text>
<text x="36.2" y="364.3" textLength="85.12" lengthAdjust="spacingAndGlyphs" font-family="Liberation Sans, sans-serif" font-size="21.5" font-weight="normal" font-style="normal" fill="#141414" stroke="#141414" stroke-width="0.22">D’AFFARI</text>
<text x="36.41" y="392.4" textLength="179.07" lengthAdjust="spacingAndGlyphs" font-family="Liberation Sans, sans-serif" font-size="21.5" font-weight="bold" font-style="normal" fill="#141414" stroke="#141414" stroke-width="0.22">15 miliardi di euro</text>
<text x="35.89" y="462" textLength="54.9" lengthAdjust="spacingAndGlyphs" font-family="Liberation Sans, sans-serif" font-size="21.5" font-weight="normal" font-style="normal" fill="#141414" stroke="#141414" stroke-width="0.22">DOVE</text>
<text x="37.5" y="489.7" textLength="70.79" lengthAdjust="spacingAndGlyphs" font-family="Liberation Sans, sans-serif" font-size="21.5" font-weight="normal" font-style="normal" fill="#141414" stroke="#141414" stroke-width="0.22">VANNO</text>
<text x="276.28" y="506.9" textLength="48.95" lengthAdjust="spacingAndGlyphs" font-family="Liberation Sans, sans-serif" font-size="21.6" font-weight="bold" font-style="normal" fill="#141414" stroke="#141414" stroke-width="0.22">5,0%</text>
<text x="275.84" y="523.8" textLength="49.35" lengthAdjust="spacingAndGlyphs" font-family="Liberation Sans, sans-serif" font-size="11" font-weight="normal" font-style="normal" fill="#141414">all’estero</text>
<text x="40.08" y="642" textLength="61.43" lengthAdjust="spacingAndGlyphs" font-family="Liberation Sans, sans-serif" font-size="22" font-weight="bold" font-style="normal" fill="#141414" stroke="#141414" stroke-width="0.22">95,0%</text>
<text x="52.22" y="659" textLength="36.43" lengthAdjust="spacingAndGlyphs" font-family="Liberation Sans, sans-serif" font-size="11" font-weight="normal" font-style="normal" fill="#141414">in Italia</text>
<text x="385.14" y="134.2" textLength="129.72" lengthAdjust="spacingAndGlyphs" font-family="Liberation Sans, sans-serif" font-size="21.5" font-weight="normal" font-style="normal" fill="#141414" stroke="#141414" stroke-width="0.22">SPESA MEDIA</text>
<text x="384.53" y="161.6" textLength="114.02" lengthAdjust="spacingAndGlyphs" font-family="Liberation Sans, sans-serif" font-size="21.5" font-weight="normal" font-style="normal" fill="#141414" stroke="#141414" stroke-width="0.22">PRO CAPITE</text>
<text x="386.22" y="185" textLength="51.37" lengthAdjust="spacingAndGlyphs" font-family="Liberation Sans, sans-serif" font-size="17.5" font-weight="normal" font-style="italic" fill="#141414" stroke="#141414" stroke-width="0.22">in euro</text>
<text x="392.8" y="222" textLength="47.99" lengthAdjust="spacingAndGlyphs" font-family="Liberation Sans, sans-serif" font-size="13.5" font-weight="normal" font-style="normal" fill="#141414" stroke="#141414" stroke-width="0.22">NATALE</text>
<text x="444.75" y="222" textLength="27.74" lengthAdjust="spacingAndGlyphs" font-family="Liberation Sans, sans-serif" font-size="15.8" font-weight="bold" font-style="normal" fill="#141414" stroke="#141414" stroke-width="0.22">871</text>
<text x="390.36" y="254.4" textLength="85.24" lengthAdjust="spacingAndGlyphs" font-family="Liberation Sans, sans-serif" font-size="13.4" font-weight="normal" font-style="normal" fill="#141414" stroke="#141414" stroke-width="0.22">CAPODANNO</text>
<text x="479.15" y="254.4" textLength="27.69" lengthAdjust="spacingAndGlyphs" font-family="Liberation Sans, sans-serif" font-size="15.8" font-weight="bold" font-style="normal" fill="#141414" stroke="#141414" stroke-width="0.22">587</text>
<text x="649.12" y="213.2" textLength="49.18" lengthAdjust="spacingAndGlyphs" font-family="Liberation Sans, sans-serif" font-size="10" font-weight="normal" font-style="normal" fill="#f3f3f3">816 in Italia</text>
<text x="641.42" y="225.3" textLength="65.29" lengthAdjust="spacingAndGlyphs" font-family="Liberation Sans, sans-serif" font-size="10" font-weight="normal" font-style="normal" fill="#f3f3f3">2.397 all’estero</text>
<text x="649.12" y="246.6" textLength="48.68" lengthAdjust="spacingAndGlyphs" font-family="Liberation Sans, sans-serif" font-size="10" font-weight="normal" font-style="normal" fill="#f3f3f3">555 in Italia</text>
<text x="644.51" y="258.7" textLength="58.47" lengthAdjust="spacingAndGlyphs" font-family="Liberation Sans, sans-serif" font-size="10" font-weight="normal" font-style="normal" fill="#f3f3f3">980 all’estero</text>
<text x="383.62" y="321.9" textLength="81.25" lengthAdjust="spacingAndGlyphs" font-family="Liberation Sans, sans-serif" font-size="21.5" font-weight="normal" font-style="normal" fill="#141414" stroke="#141414" stroke-width="0.22">LE METE</text>
<text x="383.6" y="349.2" textLength="105.01" lengthAdjust="spacingAndGlyphs" font-family="Liberation Sans, sans-serif" font-size="21.5" font-weight="normal" font-style="normal" fill="#141414" stroke="#141414" stroke-width="0.22">PRINCIPALI</text>
<text x="388.13" y="376" textLength="61.86" lengthAdjust="spacingAndGlyphs" font-family="Liberation Sans, sans-serif" font-size="14.3" font-weight="normal" font-style="normal" fill="#141414" stroke="#141414" stroke-width="0.22">montagna</text>
<text x="387.2" y="423.4" textLength="217.69" lengthAdjust="spacingAndGlyphs" font-family="Liberation Sans, sans-serif" font-size="14.3" font-weight="normal" font-style="normal" fill="#141414" stroke="#141414" stroke-width="0.22">città diversa da quella di residenza</text>
<text x="387.37" y="471.7" textLength="70.18" lengthAdjust="spacingAndGlyphs" font-family="Liberation Sans, sans-serif" font-size="14.3" font-weight="normal" font-style="normal" fill="#141414" stroke="#141414" stroke-width="0.22">città d’arte</text>
<text x="386.9" y="520.4" textLength="32.68" lengthAdjust="spacingAndGlyphs" font-family="Liberation Sans, sans-serif" font-size="14.3" font-weight="normal" font-style="normal" fill="#141414" stroke="#141414" stroke-width="0.22">mare</text>
<text x="387.51" y="566.3" textLength="29.94" lengthAdjust="spacingAndGlyphs" font-family="Liberation Sans, sans-serif" font-size="14.3" font-weight="normal" font-style="normal" fill="#141414" stroke="#141414" stroke-width="0.22">laghi</text>
<text x="388.24" y="616" textLength="38.64" lengthAdjust="spacingAndGlyphs" font-family="Liberation Sans, sans-serif" font-size="14.3" font-weight="normal" font-style="normal" fill="#141414" stroke="#141414" stroke-width="0.22">terme</text>
<text x="395.74" y="391.2" textLength="36.68" lengthAdjust="spacingAndGlyphs" font-family="Liberation Sans, sans-serif" font-size="12.4" font-weight="bold" font-style="normal" fill="#141414" stroke="#141414" stroke-width="0.12">34,1%</text>
<text x="395.74" y="407.4" textLength="36.68" lengthAdjust="spacingAndGlyphs" font-family="Liberation Sans, sans-serif" font-size="12.4" font-weight="bold" font-style="normal" fill="#141414" stroke="#141414" stroke-width="0.12">30,2%</text>
<text x="395.47" y="439.09999999999997" textLength="36.95" lengthAdjust="spacingAndGlyphs" font-family="Liberation Sans, sans-serif" font-size="12.4" font-weight="bold" font-style="normal" fill="#141414" stroke="#141414" stroke-width="0.12">25,4%</text>
<text x="395.47" y="455.29999999999995" textLength="36.95" lengthAdjust="spacingAndGlyphs" font-family="Liberation Sans, sans-serif" font-size="12.4" font-weight="bold" font-style="normal" fill="#141414" stroke="#141414" stroke-width="0.12">23,4%</text>
<text x="395.47" y="487.0" textLength="36.95" lengthAdjust="spacingAndGlyphs" font-family="Liberation Sans, sans-serif" font-size="12.4" font-weight="bold" font-style="normal" fill="#141414" stroke="#141414" stroke-width="0.12">20,1%</text>
<text x="395.21" y="503.2" textLength="37.22" lengthAdjust="spacingAndGlyphs" font-family="Liberation Sans, sans-serif" font-size="12.4" font-weight="bold" font-style="normal" fill="#141414" stroke="#141414" stroke-width="0.12">19,9%</text>
<text x="395.19" y="534.5" textLength="37.05" lengthAdjust="spacingAndGlyphs" font-family="Liberation Sans, sans-serif" font-size="12.4" font-weight="bold" font-style="normal" fill="#141414" stroke="#141414" stroke-width="0.12">11,3%</text>
<text x="395.21" y="550.7" textLength="37.22" lengthAdjust="spacingAndGlyphs" font-family="Liberation Sans, sans-serif" font-size="12.4" font-weight="bold" font-style="normal" fill="#141414" stroke="#141414" stroke-width="0.12">17,4%</text>
<text x="395.46" y="582.8000000000001" textLength="30.32" lengthAdjust="spacingAndGlyphs" font-family="Liberation Sans, sans-serif" font-size="12.4" font-weight="bold" font-style="normal" fill="#141414" stroke="#141414" stroke-width="0.12">2,3%</text>
<text x="395.46" y="599.0000000000001" textLength="30.32" lengthAdjust="spacingAndGlyphs" font-family="Liberation Sans, sans-serif" font-size="12.4" font-weight="bold" font-style="normal" fill="#141414" stroke="#141414" stroke-width="0.12">0,8%</text>
<text x="395.19" y="630.6" textLength="30.6" lengthAdjust="spacingAndGlyphs" font-family="Liberation Sans, sans-serif" font-size="12.4" font-weight="bold" font-style="normal" fill="#141414" stroke="#141414" stroke-width="0.12">1,9%</text>
<text x="395.46" y="646.8000000000001" textLength="30.32" lengthAdjust="spacingAndGlyphs" font-family="Liberation Sans, sans-serif" font-size="12.4" font-weight="bold" font-style="normal" fill="#141414" stroke="#141414" stroke-width="0.12">0,2%</text>
<text x="632.06" y="646.9" textLength="28.18" lengthAdjust="spacingAndGlyphs" font-family="Liberation Sans, sans-serif" font-size="9.9" font-weight="bold" font-style="normal" fill="#262626" stroke="#262626" stroke-width="0.22">natale</text>
<text x="631.64" y="663.6" textLength="48.92" lengthAdjust="spacingAndGlyphs" font-family="Liberation Sans, sans-serif" font-size="9.9" font-weight="bold" font-style="normal" fill="#262626" stroke="#262626" stroke-width="0.22">capodanno</text>
<text x="757.5" y="134.7" textLength="99.75" lengthAdjust="spacingAndGlyphs" font-family="Liberation Sans, sans-serif" font-size="21.5" font-weight="normal" font-style="normal" fill="#141414" stroke="#141414" stroke-width="0.22">ALLOGGIO</text>
<text x="755.97" y="161.6" textLength="104.84" lengthAdjust="spacingAndGlyphs" font-family="Liberation Sans, sans-serif" font-size="21.5" font-weight="normal" font-style="normal" fill="#141414" stroke="#141414" stroke-width="0.22">PREFERITO</text>
<text x="757.3" y="197.6" textLength="142.09" lengthAdjust="spacingAndGlyphs" font-family="Liberation Sans, sans-serif" font-size="14.3" font-weight="normal" font-style="normal" fill="#141414" stroke="#141414" stroke-width="0.22">casa di parenti e amici</text>
<text x="757.39" y="257.3" textLength="48.31" lengthAdjust="spacingAndGlyphs" font-family="Liberation Sans, sans-serif" font-size="14.3" font-weight="normal" font-style="normal" fill="#141414" stroke="#141414" stroke-width="0.22">albergo</text>
<text x="759.5" y="312.6" textLength="105.55" lengthAdjust="spacingAndGlyphs" font-family="Liberation Sans, sans-serif" font-size="14.3" font-weight="normal" font-style="normal" fill="#141414" stroke="#141414" stroke-width="0.22">casa di proprietà</text>
<text x="756.89" y="370.2" textLength="28.17" lengthAdjust="spacingAndGlyphs" font-family="Liberation Sans, sans-serif" font-size="14.3" font-weight="normal" font-style="normal" fill="#141414" stroke="#141414" stroke-width="0.22">b&amp;b</text>
<text x="756.95" y="428.8" textLength="85.05" lengthAdjust="spacingAndGlyphs" font-family="Liberation Sans, sans-serif" font-size="14.3" font-weight="normal" font-style="normal" fill="#141414" stroke="#141414" stroke-width="0.22">rifugio alpino</text>
<text x="765.55" y="216.20000000000002" textLength="36.03" lengthAdjust="spacingAndGlyphs" font-family="Liberation Sans, sans-serif" font-size="12.6" font-weight="bold" font-style="normal" fill="#141414" stroke="#141414" stroke-width="0.12">44,6%</text>
<text x="765.55" y="235.70000000000002" textLength="36.03" lengthAdjust="spacingAndGlyphs" font-family="Liberation Sans, sans-serif" font-size="12.6" font-weight="bold" font-style="normal" fill="#141414" stroke="#141414" stroke-width="0.12">33,7%</text>
<text x="765.29" y="273.8" textLength="36.29" lengthAdjust="spacingAndGlyphs" font-family="Liberation Sans, sans-serif" font-size="12.6" font-weight="bold" font-style="normal" fill="#141414" stroke="#141414" stroke-width="0.12">22,1%</text>
<text x="765.29" y="293.3" textLength="36.29" lengthAdjust="spacingAndGlyphs" font-family="Liberation Sans, sans-serif" font-size="12.6" font-weight="bold" font-style="normal" fill="#141414" stroke="#141414" stroke-width="0.12">21,9%</text>
<text x="765.03" y="331.1" textLength="36.55" lengthAdjust="spacingAndGlyphs" font-family="Liberation Sans, sans-serif" font-size="12.6" font-weight="bold" font-style="normal" fill="#141414" stroke="#141414" stroke-width="0.12">16,2%</text>
<text x="765.29" y="350.6" textLength="29.49" lengthAdjust="spacingAndGlyphs" font-family="Liberation Sans, sans-serif" font-size="12.6" font-weight="bold" font-style="normal" fill="#141414" stroke="#141414" stroke-width="0.12">7,3%</text>
<text x="765.29" y="388.8" textLength="29.49" lengthAdjust="spacingAndGlyphs" font-family="Liberation Sans, sans-serif" font-size="12.6" font-weight="bold" font-style="normal" fill="#141414" stroke="#141414" stroke-width="0.12">7,1%</text>
<text x="765.29" y="408.3" textLength="36.29" lengthAdjust="spacingAndGlyphs" font-family="Liberation Sans, sans-serif" font-size="12.6" font-weight="bold" font-style="normal" fill="#141414" stroke="#141414" stroke-width="0.12">20,8%</text>
<text x="765.55" y="446.40000000000003" textLength="29.23" lengthAdjust="spacingAndGlyphs" font-family="Liberation Sans, sans-serif" font-size="12.6" font-weight="bold" font-style="normal" fill="#141414" stroke="#141414" stroke-width="0.12">4,2%</text>
<text x="765.03" y="465.90000000000003" textLength="36.55" lengthAdjust="spacingAndGlyphs" font-family="Liberation Sans, sans-serif" font-size="12.6" font-weight="bold" font-style="normal" fill="#141414" stroke="#141414" stroke-width="0.12">10,4%</text>
<text x="937.27" y="449.8" textLength="27.87" lengthAdjust="spacingAndGlyphs" font-family="Liberation Sans, sans-serif" font-size="9.9" font-weight="bold" font-style="normal" fill="#262626" stroke="#262626" stroke-width="0.22">natale</text>
<text x="936.74" y="466.4" textLength="48.51" lengthAdjust="spacingAndGlyphs" font-family="Liberation Sans, sans-serif" font-size="9.9" font-weight="bold" font-style="normal" fill="#262626" stroke="#262626" stroke-width="0.22">capodanno</text>
<text x="759.74" y="496" textLength="224.34" lengthAdjust="spacingAndGlyphs" font-family="Liberation Sans, sans-serif" font-size="10.6" font-weight="normal" font-style="italic" fill="#333333" stroke="#333333" stroke-width="0.22">L’indagine è stata effettuata da ACS Marketing</text>
<text x="759.75" y="510" textLength="166.05" lengthAdjust="spacingAndGlyphs" font-family="Liberation Sans, sans-serif" font-size="10.6" font-weight="normal" font-style="italic" fill="#333333" stroke="#333333" stroke-width="0.22">Solutions dal 4 all’11 dicembre con</text>
<text x="759.74" y="524" textLength="227.42" lengthAdjust="spacingAndGlyphs" font-family="Liberation Sans, sans-serif" font-size="10.6" font-weight="normal" font-style="italic" fill="#333333" stroke="#333333" stroke-width="0.22">metodologia C.A.T.I. intervistando 3.000 italiani</text>
<text x="759.74" y="538" textLength="64.4" lengthAdjust="spacingAndGlyphs" font-family="Liberation Sans, sans-serif" font-size="10.6" font-weight="normal" font-style="italic" fill="#333333" stroke="#333333" stroke-width="0.22">maggiorenni.</text>
<text x="759.49" y="552" textLength="214.48" lengthAdjust="spacingAndGlyphs" font-family="Liberation Sans, sans-serif" font-size="10.6" font-weight="normal" font-style="italic" fill="#333333" stroke="#333333" stroke-width="0.22">Il campione, rappresentativo dei 50 milioni di</text>
<text x="759.74" y="566" textLength="200.1" lengthAdjust="spacingAndGlyphs" font-family="Liberation Sans, sans-serif" font-size="10.6" font-weight="normal" font-style="italic" fill="#333333" stroke="#333333" stroke-width="0.22">maggiorenni, è stato interpellato anche in</text>
<text x="759.74" y="580" textLength="164.5" lengthAdjust="spacingAndGlyphs" font-family="Liberation Sans, sans-serif" font-size="10.6" font-weight="normal" font-style="italic" fill="#333333" stroke="#333333" stroke-width="0.22">merito alle vacanze dei minorenni.</text>
<text x="756.34" y="643.6" textLength="91.06" lengthAdjust="spacingAndGlyphs" font-family="Liberation Serif, sans-serif" font-size="10" font-weight="bold" font-style="normal" fill="#213f7d" stroke="#213f7d" stroke-width="0.22">FEDERALBERGHI</text>
<text x="756.47" y="647.9" textLength="90.58" lengthAdjust="spacingAndGlyphs" font-family="Liberation Serif, sans-serif" font-size="2.9" font-weight="normal" font-style="normal" fill="#213f7d">Federazione delle Associazioni Italiane Alberghi e Turismo</text>
<text x="766.2" y="663.0" textLength="70.78" lengthAdjust="spacingAndGlyphs" font-family="Liberation Sans, sans-serif" font-size="5.6" font-weight="bold" font-style="normal" fill="#2d4b87">WWW.FEDERALBERGHI.IT</text>
<text x="893.7" y="636.8" textLength="65.89" lengthAdjust="spacingAndGlyphs" font-family="Liberation Sans, sans-serif" font-size="10.2" font-weight="bold" font-style="normal" fill="#3b5b8d" stroke="#3b5b8d" stroke-width="0.22">italyHOTELS</text>
<text x="895.01" y="641.3" textLength="63.96" lengthAdjust="spacingAndGlyphs" font-family="Liberation Sans, sans-serif" font-size="3.0" font-weight="bold" font-style="normal" fill="#555">solution   for   hospitality</text>
<text x="890.2" y="663.0" textLength="59.77" lengthAdjust="spacingAndGlyphs" font-family="Liberation Sans, sans-serif" font-size="5.6" font-weight="bold" font-style="normal" fill="#2d4b87">WWW.ITALYHOTELS.IT</text>
</svg>
</body></html>
